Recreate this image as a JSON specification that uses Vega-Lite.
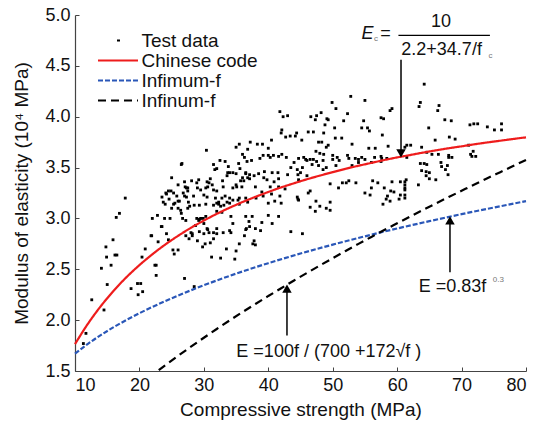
{
  "$schema": "https://vega.github.io/schema/vega-lite/v6.json",
  "width": 451,
  "height": 356,
  "autosize": {"type": "none"},
  "padding": {"left": 75, "top": 15, "right": 11, "bottom": 56},
  "background": "white",
  "config": {
    "view": {"stroke": null},
    "axis": {
      "grid": false,
      "domainColor": "#444",
      "domainWidth": 1.2,
      "tickColor": "#444",
      "tickSize": -4,
      "labelFont": "Liberation Sans",
      "labelFontSize": 18,
      "labelColor": "#111",
      "titleFont": "Liberation Sans",
      "titleFontSize": 19,
      "titleFontWeight": "normal",
      "titleColor": "#111"
    }
  },
  "datasets": {
    "pts": [
      {"f":11.3,"E":1.77},{"f":11.7,"E":1.87},{"f":12.6,"E":2.2},{"f":14.5,"E":2.1},{"f":14.1,"E":2.51},{"f":14.8,"E":2.72},{"f":14.9,"E":2.62},{"f":15.0,"E":2.35},{"f":15.6,"E":2.54},{"f":15.9,"E":2.79},{"f":16.2,"E":2.64},{"f":16.5,"E":2.64},{"f":16.4,"E":3.01},{"f":16.9,"E":3.05},{"f":17.8,"E":3.2},{"f":18.7,"E":2.31},{"f":19.8,"E":2.25},{"f":19.7,"E":2.36},
      {"f":20.2,"E":2.36},{"f":20.5,"E":2.28},{"f":20.4,"E":2.62},{"f":20.9,"E":2.7},{"f":21.8,"E":2.83},{"f":22.4,"E":2.54},{"f":22.6,"E":2.54},{"f":22.6,"E":2.44},{"f":22.9,"E":2.77},{"f":23.5,"E":2.92},{"f":23.9,"E":3.0},{"f":24.5,"E":2.79},{"f":25.2,"E":2.69},{"f":26.0,"E":2.69},{"f":25.4,"E":2.65},{"f":27.0,"E":2.41},{"f":27.2,"E":2.98},{"f":27.7,"E":2.8},{"f":28.5,"E":2.33},{"f":22.8,"E":3.03},{"f":23.4,"E":2.92},{"f":24.2,"E":2.85},{"f":24.75,"E":3.0},{"f":21.9,"E":2.83},
      {"f":24.1,"E":3.25},{"f":24.9,"E":3.27},{"f":24.6,"E":3.19},{"f":26.0,"E":3.33},{"f":27.1,"E":3.31},{"f":27.0,"E":3.36},{"f":26.8,"E":3.25},{"f":27.0,"E":3.22},{"f":27.3,"E":3.21},{"f":26.0,"E":3.1},{"f":26.4,"E":3.08},{"f":26.5,"E":3.05},{"f":26.7,"E":3.0},{"f":27.5,"E":3.1},{"f":26.5,"E":3.53},{"f":26.6,"E":3.54},{"f":23.5,"E":3.21},{"f":24.2,"E":3.24},{"f":24.5,"E":3.27},{"f":25.3,"E":3.25},{"f":25.0,"E":3.1},{"f":25.5,"E":3.15},{"f":25.8,"E":3.22},{"f":26.2,"E":3.17},{"f":27.6,"E":3.16},{"f":27.5,"E":3.3},{"f":23.7,"E":3.16},{"f":24.0,"E":3.14},{"f":25.0,"E":3.4},{"f":22.0,"E":3.0},
      {"f":29.2,"E":2.98},{"f":29.5,"E":3.0},{"f":30.0,"E":2.95},{"f":30.5,"E":2.9},{"f":30.6,"E":2.89},{"f":30.2,"E":2.75},{"f":31.0,"E":2.76},{"f":31.5,"E":2.8},{"f":32.0,"E":2.9},{"f":32.6,"E":2.61},{"f":28.2,"E":2.85},{"f":28.7,"E":2.93},{"f":29.0,"E":2.78},{"f":29.8,"E":2.72},{"f":34.8,"E":2.6},{"f":35.0,"E":2.68},{"f":35.5,"E":2.75},{"f":36.3,"E":2.83},{"f":36.6,"E":2.9},{"f":37.0,"E":2.97},{"f":37.6,"E":2.75},{"f":37.8,"E":2.78},{"f":38.0,"E":2.74},{"f":33.0,"E":2.86},{"f":34.0,"E":2.88},{"f":34.5,"E":2.95},{"f":31.2,"E":2.62},{"f":28.9,"E":3.0},{"f":30.3,"E":3.02},{"f":33.5,"E":2.7},{"f":30.8,"E":2.86},
      {"f":32.5,"E":3.57},{"f":33.3,"E":3.56},{"f":35.4,"E":3.54},{"f":35.6,"E":3.49},{"f":36.7,"E":3.56},{"f":37.4,"E":3.57},{"f":38.7,"E":3.59},{"f":40.3,"E":3.6},{"f":41.6,"E":3.61},{"f":31.7,"E":3.48},{"f":33.8,"E":3.51},{"f":34.0,"E":3.45},{"f":37.1,"E":3.43},{"f":37.8,"E":3.42},{"f":38.5,"E":3.44},{"f":39.4,"E":3.46},{"f":40.6,"E":3.45},{"f":41.5,"E":3.45},{"f":44.6,"E":3.43},{"f":28.1,"E":3.37},{"f":29.2,"E":3.38},{"f":28.9,"E":3.35},{"f":30.5,"E":3.36},{"f":31.0,"E":3.39},{"f":32.9,"E":3.37},{"f":33.6,"E":3.42},{"f":35.7,"E":3.37},{"f":36.2,"E":3.37},{"f":37.1,"E":3.39},{"f":39.3,"E":3.4},{"f":39.8,"E":3.38},{"f":40.9,"E":3.36},{"f":41.6,"E":3.39},{"f":43.0,"E":3.43},{"f":27.3,"E":3.3},{"f":27.5,"E":3.27},{"f":29.0,"E":3.3},{"f":29.5,"E":3.28},{"f":30.6,"E":3.31},{"f":31.5,"E":3.28},{"f":33.0,"E":3.31},{"f":35.1,"E":3.31},{"f":35.9,"E":3.31},{"f":38.0,"E":3.31},{"f":39.0,"E":3.26},{"f":40.3,"E":3.31},{"f":41.6,"E":3.31},{"f":42.6,"E":3.29},{"f":28.4,"E":3.22},{"f":30.0,"E":3.23},{"f":30.5,"E":3.21},{"f":31.8,"E":3.2},{"f":32.8,"E":3.2},{"f":33.3,"E":3.22},{"f":34.0,"E":3.2},{"f":35.3,"E":3.18},{"f":38.1,"E":3.2},{"f":39.2,"E":3.22},{"f":40.5,"E":3.24},{"f":41.8,"E":3.22},{"f":28.5,"E":3.13},{"f":29.3,"E":3.13},{"f":30.3,"E":3.14},{"f":31.5,"E":3.13},{"f":32.3,"E":3.14},{"f":33.1,"E":3.13},{"f":33.6,"E":3.16},{"f":35.5,"E":3.14},{"f":36.8,"E":3.16},{"f":40.0,"E":3.15},{"f":41.0,"E":3.17},{"f":42.0,"E":3.15},{"f":44.6,"E":3.19},
      {"f":29.9,"E":3.0},{"f":29.3,"E":2.99},{"f":32.0,"E":3.07},{"f":32.8,"E":3.06},{"f":34.2,"E":3.02},{"f":36.5,"E":3.02},{"f":37.5,"E":3.02},{"f":40.0,"E":3.03},{"f":41.6,"E":3.02},{"f":39.0,"E":2.96},{"f":40.6,"E":2.95},{"f":37.1,"E":2.92},{"f":38.0,"E":2.9},{"f":38.8,"E":2.88},{"f":34.2,"E":2.86},{"f":36.5,"E":2.89},{"f":28.0,"E":2.86},{"f":29.3,"E":2.87},{"f":30.0,"E":2.85},{"f":31.5,"E":2.86},{"f":32.0,"E":2.85},{"f":43.5,"E":2.87},{"f":27.2,"E":2.83},{"f":28.2,"E":2.83},
      {"f":30.4,"E":3.67},{"f":31.5,"E":3.53},{"f":32.0,"E":3.49},{"f":33.7,"E":3.45},{"f":34.5,"E":3.45},{"f":35.0,"E":3.44},{"f":35.0,"E":3.7},{"f":35.5,"E":3.73},{"f":36.0,"E":3.63},{"f":36.3,"E":3.6},{"f":36.5,"E":3.44},{"f":36.8,"E":3.4},{"f":37.2,"E":3.75},{"f":38.3,"E":3.73},{"f":39.1,"E":3.73},{"f":36.8,"E":3.68},{"f":40.0,"E":3.69},{"f":39.2,"E":3.62},{"f":40.0,"E":3.62},{"f":40.8,"E":3.62},{"f":42.1,"E":3.63},{"f":42.8,"E":3.6},{"f":40.5,"E":3.77},{"f":41.8,"E":4.05},{"f":42.3,"E":4.0},{"f":43.0,"E":4.01},{"f":42.1,"E":3.87},{"f":42.0,"E":3.84},{"f":42.7,"E":3.8},{"f":43.4,"E":3.81},{"f":44.2,"E":3.81},{"f":34.5,"E":3.3},{"f":35.0,"E":3.33},{"f":36.0,"E":3.4},{"f":36.5,"E":3.45},{"f":30.3,"E":3.3},{"f":30.8,"E":3.35},{"f":31.3,"E":3.33},{"f":32.0,"E":3.27},{"f":32.0,"E":3.15},{"f":32.3,"E":3.16},{"f":32.6,"E":3.12},{"f":34.0,"E":3.15},{"f":34.5,"E":3.18},{"f":35.5,"E":3.2},{"f":36.5,"E":3.2},{"f":26.0,"E":3.17},{"f":25.3,"E":3.14},{"f":27.8,"E":3.12},
      {"f":49.9,"E":4.14},{"f":52.8,"E":4.2},{"f":55.0,"E":4.16},{"f":50.5,"E":4.08},{"f":52.3,"E":4.03},{"f":59.2,"E":4.08},{"f":47.3,"E":3.97},{"f":49.1,"E":3.98},{"f":49.3,"E":3.97},{"f":51.7,"E":3.96},{"f":54.8,"E":3.96},{"f":57.9,"E":3.98},{"f":48.8,"E":3.92},{"f":50.3,"E":3.89},{"f":54.5,"E":3.89},{"f":46.2,"E":3.85},{"f":47.0,"E":3.85},{"f":44.4,"E":3.84},{"f":48.6,"E":3.84},{"f":50.4,"E":3.79},{"f":51.4,"E":3.79},{"f":57.7,"E":3.82},{"f":45.2,"E":3.77},{"f":47.8,"E":3.75},{"f":48.3,"E":3.75},{"f":49.3,"E":3.72},{"f":49.0,"E":3.7},{"f":53.0,"E":3.73},{"f":55.6,"E":3.69},{"f":56.6,"E":3.69},{"f":58.6,"E":3.71},{"f":61.2,"E":3.7},{"f":47.4,"E":3.66},{"f":48.0,"E":3.64},{"f":48.6,"E":3.63},{"f":50.0,"E":3.62},{"f":50.7,"E":3.6},{"f":52.3,"E":3.62},{"f":53.5,"E":3.59},{"f":45.8,"E":3.58},{"f":46.5,"E":3.58},{"f":47.0,"E":3.58},{"f":54.0,"E":3.58},{"f":55.0,"E":3.58},{"f":57.6,"E":3.59},{"f":58.4,"E":3.59},
      {"f":44.7,"E":3.59},{"f":45.5,"E":3.6},{"f":46.0,"E":3.57},{"f":47.5,"E":3.56},{"f":48.5,"E":3.57},{"f":50.0,"E":3.58},{"f":51.0,"E":3.57},{"f":52.5,"E":3.59},{"f":54.5,"E":3.6},{"f":56.5,"E":3.6},{"f":57.5,"E":3.61},{"f":61.5,"E":3.6},{"f":44.5,"E":3.48},{"f":45.3,"E":3.5},{"f":46.8,"E":3.53},{"f":47.8,"E":3.52},{"f":56.0,"E":3.55},{"f":57.5,"E":3.56},{"f":44.7,"E":3.38},{"f":46.5,"E":3.27},{"f":46.2,"E":3.25},{"f":49.6,"E":3.34},{"f":50.9,"E":3.3},{"f":51.5,"E":3.35},{"f":52.1,"E":3.35},{"f":52.5,"E":3.37},{"f":53.6,"E":3.35},{"f":56.2,"E":3.37},{"f":59.2,"E":3.36},{"f":60.5,"E":3.36},{"f":61.2,"E":3.33},{"f":61.4,"E":3.38},{"f":59.0,"E":3.27},{"f":59.5,"E":3.26},{"f":61.2,"E":3.28},{"f":60.5,"E":3.23},{"f":60.3,"E":3.19},{"f":61.2,"E":3.2},{"f":44.5,"E":3.21},{"f":44.7,"E":3.18},{"f":49.6,"E":3.16},{"f":46.5,"E":3.11},{"f":47.3,"E":3.07},{"f":45.3,"E":2.85},{"f":47.4,"E":3.17},{"f":48.0,"E":3.12},{"f":49.0,"E":3.1},{"f":49.6,"E":3.08},{"f":55.0,"E":3.25},{"f":56.0,"E":3.3},{"f":57.0,"E":3.35},{"f":58.5,"E":3.22},{"f":58.0,"E":3.3},
      {"f":45.0,"E":3.45},{"f":46.0,"E":3.42},{"f":48.5,"E":3.48},{"f":49.0,"E":3.5},{"f":50.5,"E":3.52},{"f":53.0,"E":3.52},{"f":54.0,"E":3.55},{"f":43.5,"E":3.5},{"f":44.0,"E":3.55},
      {"f":57.5,"E":3.99},{"f":58.9,"E":4.06},{"f":55.4,"E":3.89},{"f":55.7,"E":3.86},{"f":46.6,"E":4.0},{"f":48.2,"E":4.04},{"f":47.5,"E":4.01},{"f":63.4,"E":4.1},{"f":66.3,"E":4.06},
      {"f":57.8,"E":3.14},{"f":58.3,"E":3.19},{"f":58.9,"E":3.17},{"f":55.8,"E":3.23},
      {"f":64.2,"E":4.32},{"f":63.6,"E":4.14},{"f":66.5,"E":4.11},{"f":68.4,"E":3.96},{"f":64.9,"E":3.89},{"f":71.3,"E":3.92},{"f":71.9,"E":3.93},{"f":72.5,"E":3.93},{"f":75.1,"E":3.87},{"f":76.2,"E":3.93},{"f":76.2,"E":3.87},{"f":68.1,"E":3.8},{"f":69.0,"E":3.78},{"f":65.9,"E":3.77},{"f":61.5,"E":3.72},{"f":62.1,"E":3.72},{"f":63.8,"E":3.7},{"f":65.4,"E":3.63},{"f":66.4,"E":3.63},{"f":68.0,"E":3.6},{"f":68.5,"E":3.6},{"f":71.1,"E":3.72},{"f":71.8,"E":3.66},{"f":71.6,"E":3.61},{"f":64.6,"E":3.65},{"f":67.4,"E":3.97},{"f":74.0,"E":3.9},
      {"f":63.6,"E":3.54},{"f":64.2,"E":3.54},{"f":64.6,"E":3.53},{"f":63.8,"E":3.47},{"f":64.5,"E":3.46},{"f":65.0,"E":3.45},{"f":64.5,"E":3.42},{"f":65.0,"E":3.39},{"f":61.2,"E":3.36},{"f":61.2,"E":3.3},{"f":61.2,"E":3.23},{"f":63.3,"E":3.33},{"f":66.8,"E":3.55},{"f":66.9,"E":3.51},{"f":67.9,"E":3.43},{"f":68.0,"E":3.62},{"f":72.2,"E":3.61},{"f":71.4,"E":3.63},{"f":66.0,"E":3.38},{"f":67.5,"E":3.48},{"f":67.8,"E":3.52}
    ],
    "curves": [
      {"series":"Chinese code","f":10,"E":1.764},{"series":"Chinese code","f":12,"E":1.964},{"series":"Chinese code","f":14,"E":2.137},{"series":"Chinese code","f":16,"E":2.289},{"series":"Chinese code","f":18,"E":2.423},{"series":"Chinese code","f":20,"E":2.541},{"series":"Chinese code","f":22,"E":2.647},{"series":"Chinese code","f":24,"E":2.743},{"series":"Chinese code","f":26,"E":2.829},{"series":"Chinese code","f":28,"E":2.908},{"series":"Chinese code","f":30,"E":2.979},{"series":"Chinese code","f":32,"E":3.045},{"series":"Chinese code","f":34,"E":3.105},{"series":"Chinese code","f":36,"E":3.161},{"series":"Chinese code","f":38,"E":3.212},{"series":"Chinese code","f":40,"E":3.26},{"series":"Chinese code","f":42,"E":3.305},{"series":"Chinese code","f":44,"E":3.346},{"series":"Chinese code","f":46,"E":3.385},{"series":"Chinese code","f":48,"E":3.421},{"series":"Chinese code","f":50,"E":3.455},{"series":"Chinese code","f":52,"E":3.488},{"series":"Chinese code","f":54,"E":3.518},{"series":"Chinese code","f":56,"E":3.546},{"series":"Chinese code","f":58,"E":3.574},{"series":"Chinese code","f":60,"E":3.6},{"series":"Chinese code","f":62,"E":3.623},{"series":"Chinese code","f":64,"E":3.647},{"series":"Chinese code","f":66,"E":3.669},{"series":"Chinese code","f":68,"E":3.69},{"series":"Chinese code","f":70,"E":3.709},{"series":"Chinese code","f":72,"E":3.729},{"series":"Chinese code","f":74,"E":3.747},{"series":"Chinese code","f":76,"E":3.764},{"series":"Chinese code","f":78,"E":3.781},{"series":"Chinese code","f":80,"E":3.797},
      {"series":"Infimum-f","f":10,"E":1.67},{"series":"Infimum-f","f":12,"E":1.767},{"series":"Infimum-f","f":14,"E":1.853},{"series":"Infimum-f","f":16,"E":1.931},{"series":"Infimum-f","f":18,"E":2.002},{"series":"Infimum-f","f":20,"E":2.068},{"series":"Infimum-f","f":25,"E":2.215},{"series":"Infimum-f","f":30,"E":2.343},{"series":"Infimum-f","f":35,"E":2.457},{"series":"Infimum-f","f":40,"E":2.56},{"series":"Infimum-f","f":45,"E":2.655},{"series":"Infimum-f","f":50,"E":2.742},{"series":"Infimum-f","f":55,"E":2.824},{"series":"Infimum-f","f":60,"E":2.901},{"series":"Infimum-f","f":65,"E":2.973},{"series":"Infimum-f","f":70,"E":3.042},{"series":"Infimum-f","f":75,"E":3.107},{"series":"Infimum-f","f":80,"E":3.17},
      {"series":"Infinum-f","f":23,"E":1.508},{"series":"Infinum-f","f":24,"E":1.556},{"series":"Infinum-f","f":26,"E":1.649},{"series":"Infinum-f","f":28,"E":1.739},{"series":"Infinum-f","f":30,"E":1.827},{"series":"Infinum-f","f":32,"E":1.913},{"series":"Infinum-f","f":34,"E":1.997},{"series":"Infinum-f","f":36,"E":2.079},{"series":"Infinum-f","f":38,"E":2.159},{"series":"Infinum-f","f":40,"E":2.237},{"series":"Infinum-f","f":42,"E":2.314},{"series":"Infinum-f","f":44,"E":2.39},{"series":"Infinum-f","f":46,"E":2.464},{"series":"Infinum-f","f":48,"E":2.537},{"series":"Infinum-f","f":50,"E":2.609},{"series":"Infinum-f","f":52,"E":2.68},{"series":"Infinum-f","f":54,"E":2.75},{"series":"Infinum-f","f":56,"E":2.818},{"series":"Infinum-f","f":58,"E":2.886},{"series":"Infinum-f","f":60,"E":2.952},{"series":"Infinum-f","f":62,"E":3.018},{"series":"Infinum-f","f":64,"E":3.083},{"series":"Infinum-f","f":66,"E":3.147},{"series":"Infinum-f","f":68,"E":3.21},{"series":"Infinum-f","f":70,"E":3.272},{"series":"Infinum-f","f":72,"E":3.334},{"series":"Infinum-f","f":74,"E":3.395},{"series":"Infinum-f","f":76,"E":3.455},{"series":"Infinum-f","f":78,"E":3.515},{"series":"Infinum-f","f":80,"E":3.574}
    ],
    "arrows": [
      {"f":60.6,"E":4.56,"E2":3.64},
      {"f":68.2,"E":2.47,"E2":2.98},
      {"f":42.9,"E":1.85,"E2":2.31}
    ],
    "heads": [
      {"f":60.6,"E":3.64,"dir":"down"},
      {"f":68.2,"E":2.98,"dir":"up"},
      {"f":42.9,"E":2.31,"dir":"up"}
    ],
    "bar": [{"f":60.2,"f2":74.4,"E":4.8}],
    "texts": [
      {"f":58.2,"E":4.815,"t":"="},
      {"f":66.8,"E":4.93,"t":"10"},
      {"f":66.9,"E":4.655,"t":"2.2+34.7/f"},
      {"f":49.4,"E":1.69,"t":"E  =100f  / (700 +172√f   )"},
      {"f":68.6,"E":2.33,"t":"E  =0.83f"}
    ],
    "itexts": [
      {"f":55.4,"E":4.815,"t":"E"}
    ],
    "small": [
      {"f":56.7,"E":4.76,"t":"c"},
      {"f":74.5,"E":4.6,"t":"c"},
      {"f":75.7,"E":2.39,"t":"0.3"}
    ]
  },
  "layer": [
    {
      "data": {"name": "pts"},
      "mark": {"type": "square", "size": 8, "color": "#000", "opacity": 1},
      "encoding": {
        "x": {"field": "f", "type": "quantitative", "scale": {"domain": [10, 80], "nice": false, "zero": false},
          "axis": {"title": "Compressive strength (MPa)", "values": [10,20,30,40,50,60,70,80], "labelPadding": 9, "titlePadding": 6}},
        "y": {"field": "E", "type": "quantitative", "scale": {"domain": [1.5, 5.0], "nice": false, "zero": false},
          "axis": {"title": "Modulus of elasticity (10⁴ MPa)", "values": [1.5,2,2.5,3,3.5,4,4.5,5], "format": ".1f", "labelPadding": 9, "titlePadding": 13}}
      }
    },
    {
      "data": {"name": "curves"},
      "mark": {"type": "line", "strokeWidth": 2.2, "interpolate": "monotone"},
      "encoding": {
        "x": {"field": "f", "type": "quantitative"},
        "y": {"field": "E", "type": "quantitative"},
        "color": {"field": "series", "type": "nominal",
          "scale": {"domain": ["Test data", "Chinese code", "Infimum-f", "Infinum-f"], "range": ["#000000", "#ee1c1c", "#2a57b8", "#000000"]},
          "legend": {"title": null, "orient": "none", "legendX": 33.5, "legendY": 16, "symbolType": "M-4,0H4", "symbolSize": 100, "symbolStrokeWidth": 2.2, "labelFont": "Liberation Sans", "labelFontSize": 19, "labelColor": "#111", "labelOffset": 14, "rowPadding": 0}},
        "strokeDash": {"field": "series", "type": "nominal",
          "scale": {"domain": ["Test data", "Chinese code", "Infimum-f", "Infinum-f"], "range": [[0, 19, 3, 100], [1, 0], [5, 2], [8, 5]]},
          "legend": {"title": null, "orient": "none", "legendX": 33.5, "legendY": 16, "symbolType": "M-4,0H4", "symbolSize": 100, "symbolStrokeWidth": 2.2, "labelFont": "Liberation Sans", "labelFontSize": 19, "labelColor": "#111", "labelOffset": 14, "rowPadding": 0}}
      }
    },
    {
      "data": {"name": "arrows"},
      "mark": {"type": "rule", "color": "#000", "strokeWidth": 1.5},
      "encoding": {
        "x": {"field": "f", "type": "quantitative"},
        "y": {"field": "E", "type": "quantitative"},
        "y2": {"field": "E2"}
      }
    },
    {
      "data": {"name": "heads"},
      "mark": {"type": "point", "filled": true, "size": 90, "color": "#000", "opacity": 1},
      "encoding": {
        "x": {"field": "f", "type": "quantitative"},
        "y": {"field": "E", "type": "quantitative"},
        "shape": {"field": "dir", "type": "nominal", "scale": {"domain": ["down", "up"], "range": ["triangle-down", "triangle-up"]}, "legend": null}
      }
    },
    {
      "data": {"name": "bar"},
      "mark": {"type": "rule", "color": "#000", "strokeWidth": 1.3},
      "encoding": {
        "x": {"field": "f", "type": "quantitative"},
        "x2": {"field": "f2"},
        "y": {"field": "E", "type": "quantitative"}
      }
    },
    {
      "data": {"name": "texts"},
      "mark": {"type": "text", "font": "Liberation Sans", "fontSize": 18, "color": "#111", "align": "center", "baseline": "middle"},
      "encoding": {
        "x": {"field": "f", "type": "quantitative"},
        "y": {"field": "E", "type": "quantitative"},
        "text": {"field": "t"}
      }
    },
    {
      "data": {"name": "itexts"},
      "mark": {"type": "text", "font": "Liberation Sans", "fontSize": 18, "fontStyle": "italic", "color": "#111", "align": "center", "baseline": "middle"},
      "encoding": {
        "x": {"field": "f", "type": "quantitative"},
        "y": {"field": "E", "type": "quantitative"},
        "text": {"field": "t"}
      }
    },
    {
      "data": {"name": "small"},
      "mark": {"type": "text", "font": "Liberation Sans", "fontSize": 8, "color": "#777", "align": "center", "baseline": "middle"},
      "encoding": {
        "x": {"field": "f", "type": "quantitative"},
        "y": {"field": "E", "type": "quantitative"},
        "text": {"field": "t"}
      }
    }
  ]
}
